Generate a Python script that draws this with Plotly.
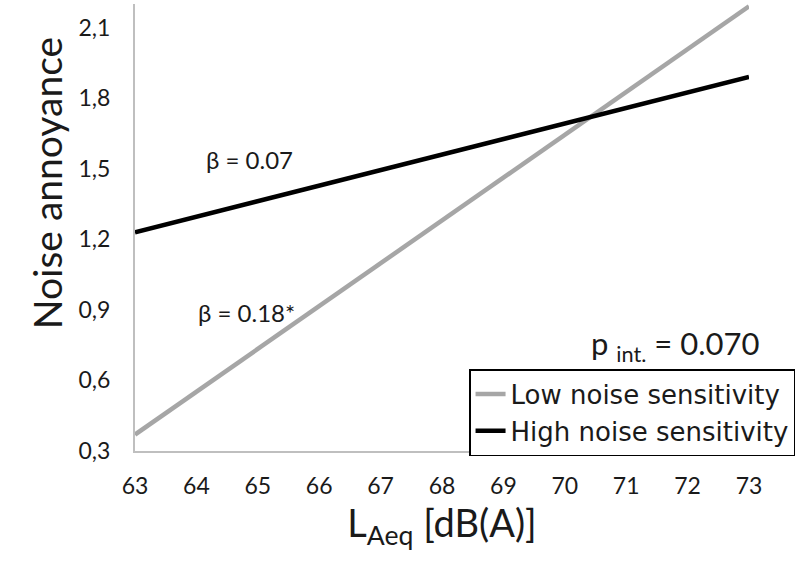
import plotly.graph_objects as go

laeq = [63, 73]
low_sens = [0.37, 2.19]
high_sens = [1.23, 1.89]
x_ticks = list(range(63, 74))
y_ticks = [0.3, 0.6, 0.9, 1.2, 1.5, 1.8, 2.1]

font = "Lato, 'Open Sans', sans-serif"
ink = "#1a1a1a"

fig = go.Figure()
fig.add_trace(go.Scatter(x=laeq, y=low_sens, mode="lines", name="Low noise sensitivity",
                         line=dict(color="#a6a6a6", width=4.5)))
fig.add_trace(go.Scatter(x=laeq, y=high_sens, mode="lines", name="High noise sensitivity",
                         line=dict(color="black", width=4.5)))

fig.add_annotation(x=64.86, y=1.54, text="β = 0.07", showarrow=False,
                   font=dict(size=24, color=ink))
fig.add_annotation(x=64.81, y=0.89, text="β = 0.18*", showarrow=False,
                   font=dict(size=24, color=ink))
fig.add_annotation(x=71.8, y=0.75, text="p <sub>int.</sub> = 0.070", showarrow=False,
                   font=dict(size=31, color=ink))
# y axis title sits above the plot centre in the original
fig.add_annotation(xref="paper", yref="paper", x=-0.185, y=0.6, text="Noise annoyance",
                   textangle=-90, showarrow=False, font=dict(size=39, color=ink))

fig.update_layout(
    width=800, height=563,
    margin=dict(l=135, r=51, t=4, b=112),
    plot_bgcolor="white", paper_bgcolor="white",
    separators=",.",
    font=dict(family=font, color=ink),
    showlegend=True,
    legend=dict(x=1.075, xanchor="right", y=0.1834, yanchor="top",
                bordercolor="black", borderwidth=1.5, bgcolor="white",
                font=dict(family="'DejaVu Sans', sans-serif", size=26, color=ink),
                tracegroupgap=0, itemwidth=30),
    xaxis=dict(range=[63, 73], tickvals=x_ticks, showgrid=False, zeroline=False,
               showline=True, linecolor="#bfbfbf", linewidth=2, ticks="",
               automargin=False,
               tickfont=dict(size=23, color=ink), ticklabelstandoff=13,
               title=dict(text="L<sub>Aeq</sub> [dB(A)]", font=dict(size=38, color=ink),
                          standoff=12)),
    yaxis=dict(range=[0.3, 2.2], tickvals=y_ticks, tickformat=".1f", showgrid=False,
               zeroline=False, showline=True, linecolor="#bfbfbf", linewidth=2, ticks="",
               automargin=False,
               tickfont=dict(size=23, color=ink), ticklabelstandoff=18),
)

fig.write_html("out.html", config={"displayModeBar": False},
               post_script="document.body.style.margin='0px';")
